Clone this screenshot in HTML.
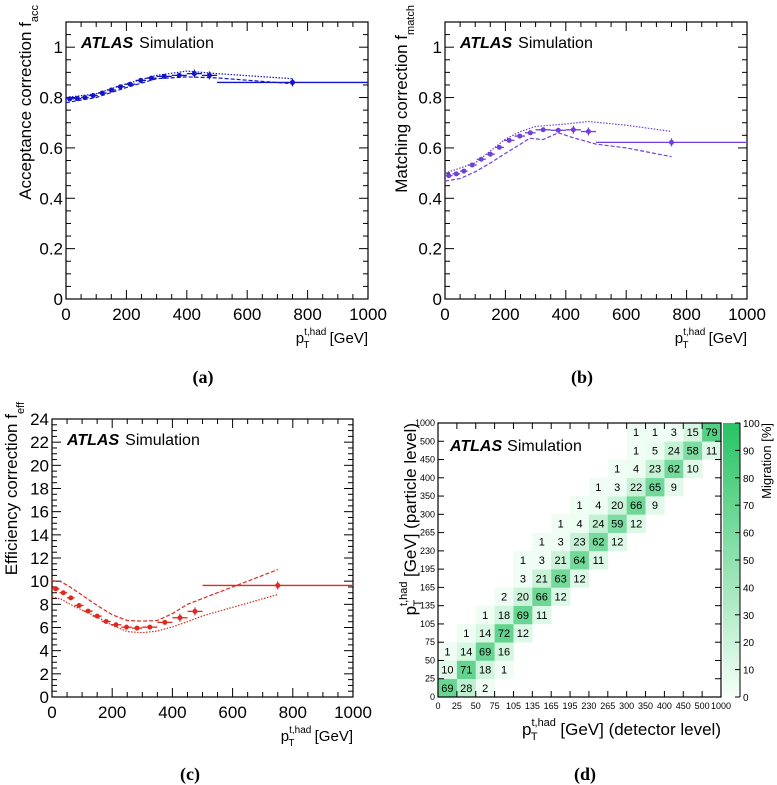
<!DOCTYPE html>
<html><head><meta charset="utf-8">
<style>
html,body{margin:0;padding:0;background:#fff;}
svg{display:block;font-family:"Liberation Sans",sans-serif;}
.cap{font-family:"Liberation Serif",serif;font-weight:bold;font-size:18px;}
</style></head>
<body>
<svg id="fig" width="777" height="785" viewBox="0 0 777 785" xmlns="http://www.w3.org/2000/svg"></svg>
<script>
// ---- shared data ----
const binEdges = [0,25,50,75,105,135,165,195,230,265,300,350,400,450,500,1000];
const binCenters = [12.5,37.5,62.5,90,120,150,180,212.5,247.5,282.5,325,375,425,475,750];
// panel a
const accValues = [0.795,0.796,0.800,0.808,0.818,0.830,0.843,0.853,0.868,0.877,0.884,0.888,0.895,0.888,0.860];
const accUpX = [0,100,200,300,400,500,750];
const accUpY = [0.80,0.815,0.855,0.888,0.905,0.895,0.875];
const accLoX = [0,100,200,300,400,500,750];
const accLoY = [0.780,0.800,0.840,0.875,0.882,0.878,0.855];
// panel b
const matchValues = [0.490,0.497,0.508,0.532,0.555,0.575,0.602,0.630,0.647,0.660,0.672,0.670,0.672,0.665,0.622];
const matchUpX = [0,100,200,250,300,350,400,475,600,750];
const matchUpY = [0.50,0.54,0.635,0.665,0.685,0.690,0.695,0.705,0.690,0.665];
const matchLoX = [0,50,100,150,200,250,280,325,375,425,500,600,750];
const matchLoY = [0.468,0.478,0.505,0.540,0.578,0.615,0.638,0.633,0.660,0.640,0.615,0.600,0.565];
// panel c
const effValues = [9.34,9.00,8.56,7.90,7.41,6.98,6.52,6.24,6.03,5.95,6.03,6.44,6.84,7.39,9.63];
const effUpX = [0,30,60,100,150,200,250,300,350,400,450,500,750];
const effUpY = [10.05,9.95,9.5,8.8,7.9,7.1,6.6,6.55,6.6,7.2,8.0,8.5,11.0];
const effLoX = [0,30,60,100,150,200,250,300,350,400,450,500,750];
const effLoY = [8.65,8.45,8.0,7.5,6.9,6.2,5.65,5.55,5.7,6.05,6.5,7.0,8.85];
// panel d migration matrix
const migRows = [0,0,0, 1,1,1,1, 2,2,2,2, 3,3,3,3, 4,4,4,4, 5,5,5,5, 6,6,6,6, 7,7,7,7,7, 8,8,8,8,8, 9,9,9,9,9, 10,10,10,10,10, 11,11,11,11,11, 12,12,12,12,12, 13,13,13,13,13, 14,14,14,14,14];
const migCols = [0,1,2, 0,1,2,3, 0,1,2,3, 1,2,3,4, 2,3,4,5, 3,4,5,6, 4,5,6,7, 4,5,6,7,8, 5,6,7,8,9, 6,7,8,9,10, 7,8,9,10,11, 8,9,10,11,12, 9,10,11,12,13, 10,11,12,13,14, 10,11,12,13,14];
const migVals = [69,28,2, 10,71,18,1, 1,14,69,16, 1,14,72,12, 1,18,69,11, 2,20,66,12, 3,21,63,12, 1,3,21,64,11, 1,3,23,62,12, 1,4,24,59,12, 1,4,20,66,9, 1,3,22,65,9, 1,4,23,62,10, 1,5,24,58,11, 1,1,3,15,79];
const binLabels = ["0","25","50","75","105","135","165","195","230","265","300","350","400","450","500","1000"];
const cbTicks = [0,10,20,30,40,50,60,70,80,90,100];

const NS="http://www.w3.org/2000/svg";
const svg=document.getElementById('fig');
function mk(tag,attrs,parent){const e=document.createElementNS(NS,tag);for(const k in attrs)e.setAttribute(k,attrs[k]);(parent||svg).appendChild(e);return e;}
function txt(s,attrs,parent){const e=mk('text',attrs,parent);e.textContent=s;return e;}

function panel(o){
  const g=mk('g',{});
  
  
  const X=v=>o.x0+(v-o.xmin)/(o.xmax-o.xmin)*(o.x1-o.x0);
  const Y=v=>o.y1-(v-o.ymin)/(o.ymax-o.ymin)*(o.y1-o.y0);
  for(let v=o.xmin; v<=o.xmax+1e-9; v+=o.xminor){
    const major=Math.abs(v/o.xmajor-Math.round(v/o.xmajor))<1e-6;
    const L=major?9:5;
    mk('line',{x1:X(v),x2:X(v),y1:o.y1,y2:o.y1-L,stroke:'#000','stroke-width':1},g);
    mk('line',{x1:X(v),x2:X(v),y1:o.y0,y2:o.y0+L,stroke:'#000','stroke-width':1},g);
    if(major){const t=txt(String(Math.round(v)),{x:X(v),y:o.y1+21,'font-size':17,'text-anchor':'middle'},g);
      }
  }
  for(let v=o.ymin; v<=o.ymax+1e-9; v+=o.yminor){
    const major=Math.abs(v/o.ymajor-Math.round(v/o.ymajor))<1e-6;
    const L=major?9:5;
    mk('line',{x1:o.x0,x2:o.x0+L,y1:Y(v),y2:Y(v),stroke:'#000','stroke-width':1},g);
    mk('line',{x1:o.x1,x2:o.x1-L,y1:Y(v),y2:Y(v),stroke:'#000','stroke-width':1},g);
    if(major){const lab=o.yfmt(v);const t=txt(lab,{x:o.x0-3,y:Y(v)+6,'font-size':17,'text-anchor':'end'},g);
      }
  }
  mk('rect',{x:o.x0,y:o.y0,width:o.x1-o.x0,height:o.y1-o.y0,fill:'none',stroke:'#000','stroke-width':1.2},g);
  const at=txt('',{x:o.x0+15,y:o.y0+26,'font-size':16},g);
  
  const b=mk('tspan',{'font-weight':'bold','font-style':'italic'},at);b.textContent='ATLAS';
  const s=mk('tspan',{dx:6},at);s.textContent='Simulation';
  const xt=txt('',{x:o.x1,y:o.y1+44,'font-size':15,'text-anchor':'end'},g);
  
  let t1=mk('tspan',{},xt);t1.textContent='p';
  let t2=mk('tspan',{'font-size':10,dy:-8},xt);t2.textContent='t,had';
  let t3=mk('tspan',{'font-size':10,dx:-23,dy:13},xt);t3.textContent='T';
  let t4=mk('tspan',{dx:16,dy:-5},xt);t4.textContent=' [GeV]';
  const yt=txt('',{transform:`translate(${o.ytx},${o.y0-17}) rotate(-90)`,'font-size':17,'text-anchor':'end'},g);
  
  let y1=mk('tspan',{},yt);y1.textContent=o.ytitle;
  let y2=mk('tspan',{'font-size':11,dy:7},yt);y2.textContent=o.ysub;
  const path=(xs,ys)=>xs.map((x,i)=>(i?'L':'M')+X(x).toFixed(1)+','+Y(ys[i]).toFixed(1)).join(' ');
  const up=mk('path',{d:path(o.upX,o.upY),fill:'none',stroke:o.color,'stroke-width':1.2,'stroke-dasharray':o.upDash},g);
  
  const lo=mk('path',{d:path(o.loX,o.loY),fill:'none',stroke:o.color,'stroke-width':1.2,'stroke-dasharray':o.loDash},g);
  
  for(let i=0;i<o.vals.length;i++){
    const cx=X(binCenters[i]),cy=Y(o.vals[i]);
    const pg=mk('g',{},g);
    
    mk('line',{x1:X(binEdges[i]),x2:X(binEdges[i+1]),y1:cy,y2:cy,stroke:o.color,'stroke-width':1.3},pg);
    const eb=i>=12?4:2;
    mk('line',{x1:cx,x2:cx,y1:cy-eb,y2:cy+eb,stroke:o.color,'stroke-width':1.2},pg);
    mk('circle',{cx:cx,cy:cy,r:2.5,fill:o.color},pg);
  }
  const cap=txt(o.cap,{x:o.capx,y:o.capy,'text-anchor':'middle',class:'cap'},g);
  
}

panel({name:'panel-a-acceptance',x0:66,x1:368,y0:22,y1:299,xmin:0,xmax:1000,ymin:0,ymax:1.1,xmajor:200,xminor:50,ymajor:0.2,yminor:0.05,
  yfmt:v=>v<1e-9?'0':(Math.abs(v-1)<1e-9?'1':v.toFixed(1)),ytx:31,ytitle:'Acceptance correction f',ysub:'acc',
  vals:accValues,upX:accUpX,upY:accUpY,loX:accLoX,loY:accLoY,color:'#1515c8',upDash:'1.5,1.5',loDash:'4,2',cap:'(a)',capx:203,capy:383});
panel({name:'panel-b-matching',x0:445,x1:747,y0:22,y1:299,xmin:0,xmax:1000,ymin:0,ymax:1.1,xmajor:200,xminor:50,ymajor:0.2,yminor:0.05,
  yfmt:v=>v<1e-9?'0':(Math.abs(v-1)<1e-9?'1':v.toFixed(1)),ytx:407,ytitle:'Matching correction f',ysub:'match',
  vals:matchValues,upX:matchUpX,upY:matchUpY,loX:matchLoX,loY:matchLoY,color:'#7040d8',upDash:'1.5,1.5',loDash:'4,2',cap:'(b)',capx:582,capy:383});
panel({name:'panel-c-efficiency',x0:52,x1:353,y0:419,y1:697,xmin:0,xmax:1000,ymin:0,ymax:24,xmajor:200,xminor:50,ymajor:2,yminor:0.5,
  yfmt:v=>String(Math.round(v)),ytx:17,ytitle:'Efficiency correction f',ysub:'eff',
  vals:effValues,upX:effUpX,upY:effUpY,loX:effLoX,loY:effLoY,color:'#dc2a1e',upDash:'4,2',loDash:'1.5,1.5',cap:'(c)',capx:190,capy:780});

(function(){
  const g=mk('g',{});
  
  
  const x0=438,x1=721,y0=423,y1=697,n=binLabels.length-1;
  const cw=(x1-x0)/n,ch=(y1-y0)/n;
  const col=v=>{const f=v/100;const r=Math.round(245-(245-40)*f),gg=Math.round(255-(255-195)*f),b=Math.round(248-(248-100)*f);return `rgb(${r},${gg},${b})`;};
  for(let k=0;k<migVals.length;k++){
    const r=migRows[k],c=migCols[k],v=migVals[k];
    const cell=mk('rect',{x:x0+c*cw,y:y1-(r+1)*ch,width:cw+0.3,height:ch+0.3,fill:col(Math.max(v,3))},g);
    
    const t=txt(String(v),{x:x0+(c+0.5)*cw,y:y1-(r+0.5)*ch+4,'font-size':11,'text-anchor':'middle'},g);
    
  }
  for(let i=0;i<=n;i++){
    const x=x0+i*cw,y=y1-i*ch;
    mk('line',{x1:x,x2:x,y1:y1,y2:y1-6,stroke:'#000'},g);
    mk('line',{x1:x,x2:x,y1:y0,y2:y0+6,stroke:'#000'},g);
    mk('line',{x1:x0,x2:x0+6,y1:y,y2:y,stroke:'#000'},g);
    mk('line',{x1:x1,x2:x1-6,y1:y,y2:y,stroke:'#000'},g);
    const tx=txt(binLabels[i],{x:x,y:y1+12,'font-size':9,'text-anchor':'middle'},g);
    
    const ty=txt(binLabels[i],{x:x0-3,y:y+3,'font-size':9,'text-anchor':'end'},g);
    
  }
  mk('rect',{x:x0,y:y0,width:x1-x0,height:y1-y0,fill:'none',stroke:'#000','stroke-width':1.2},g);
  const at=txt('',{x:x0+12,y:y0+28,'font-size':16},g);
  
  const b=mk('tspan',{'font-weight':'bold','font-style':'italic'},at);b.textContent='ATLAS';
  const s=mk('tspan',{dx:5},at);s.textContent='Simulation';
  const cx0=723,cx1=740;
  const defs=mk('defs',{},g);
  const lg=mk('linearGradient',{id:'cbg',x1:0,y1:1,x2:0,y2:0},defs);
  mk('stop',{offset:0,'stop-color':col(0)},lg);mk('stop',{offset:1,'stop-color':col(100)},lg);
  const cb=mk('rect',{x:cx0,y:y0,width:cx1-cx0,height:y1-y0,fill:'url(#cbg)'},g);
  
  mk('line',{x1:cx1,x2:cx1,y1:y0,y2:y1,stroke:'#000'},g);
  cbTicks.forEach(v=>{const y=y1-v/100*(y1-y0);
    mk('line',{x1:cx1-5,x2:cx1,y1:y,y2:y,stroke:'#000'},g);
    const t=txt(String(v),{x:cx1+3,y:y+4,'font-size':10},g);
    });
  const ct=txt('Migration [%]',{transform:`translate(771,${y0}) rotate(-90)`,'font-size':13,'text-anchor':'end'},g);
  
  const xt=txt('',{x:x1,y:y1+38,'font-size':17,'text-anchor':'end'},g);
  
  let a1=mk('tspan',{},xt);a1.textContent='p';
  let a2=mk('tspan',{'font-size':11,dy:-9},xt);a2.textContent='t,had';
  let a3=mk('tspan',{'font-size':11,dx:-25,dy:14},xt);a3.textContent='T';
  let a4=mk('tspan',{dx:18,dy:-5},xt);a4.textContent=' [GeV] (detector level)';
  const yt=txt('',{transform:`translate(416,${y0}) rotate(-90)`,'font-size':17,'text-anchor':'end'},g);
  
  let b1=mk('tspan',{},yt);b1.textContent='p';
  let b2=mk('tspan',{'font-size':11,dy:-9},yt);b2.textContent='t,had';
  let b3=mk('tspan',{'font-size':11,dx:-25,dy:14},yt);b3.textContent='T';
  let b4=mk('tspan',{dx:18,dy:-5},yt);b4.textContent=' [GeV] (particle level)';
  const cap=txt('(d)',{x:585,y:780,'text-anchor':'middle',class:'cap'},g);
  
})();
</script>
</body></html>
